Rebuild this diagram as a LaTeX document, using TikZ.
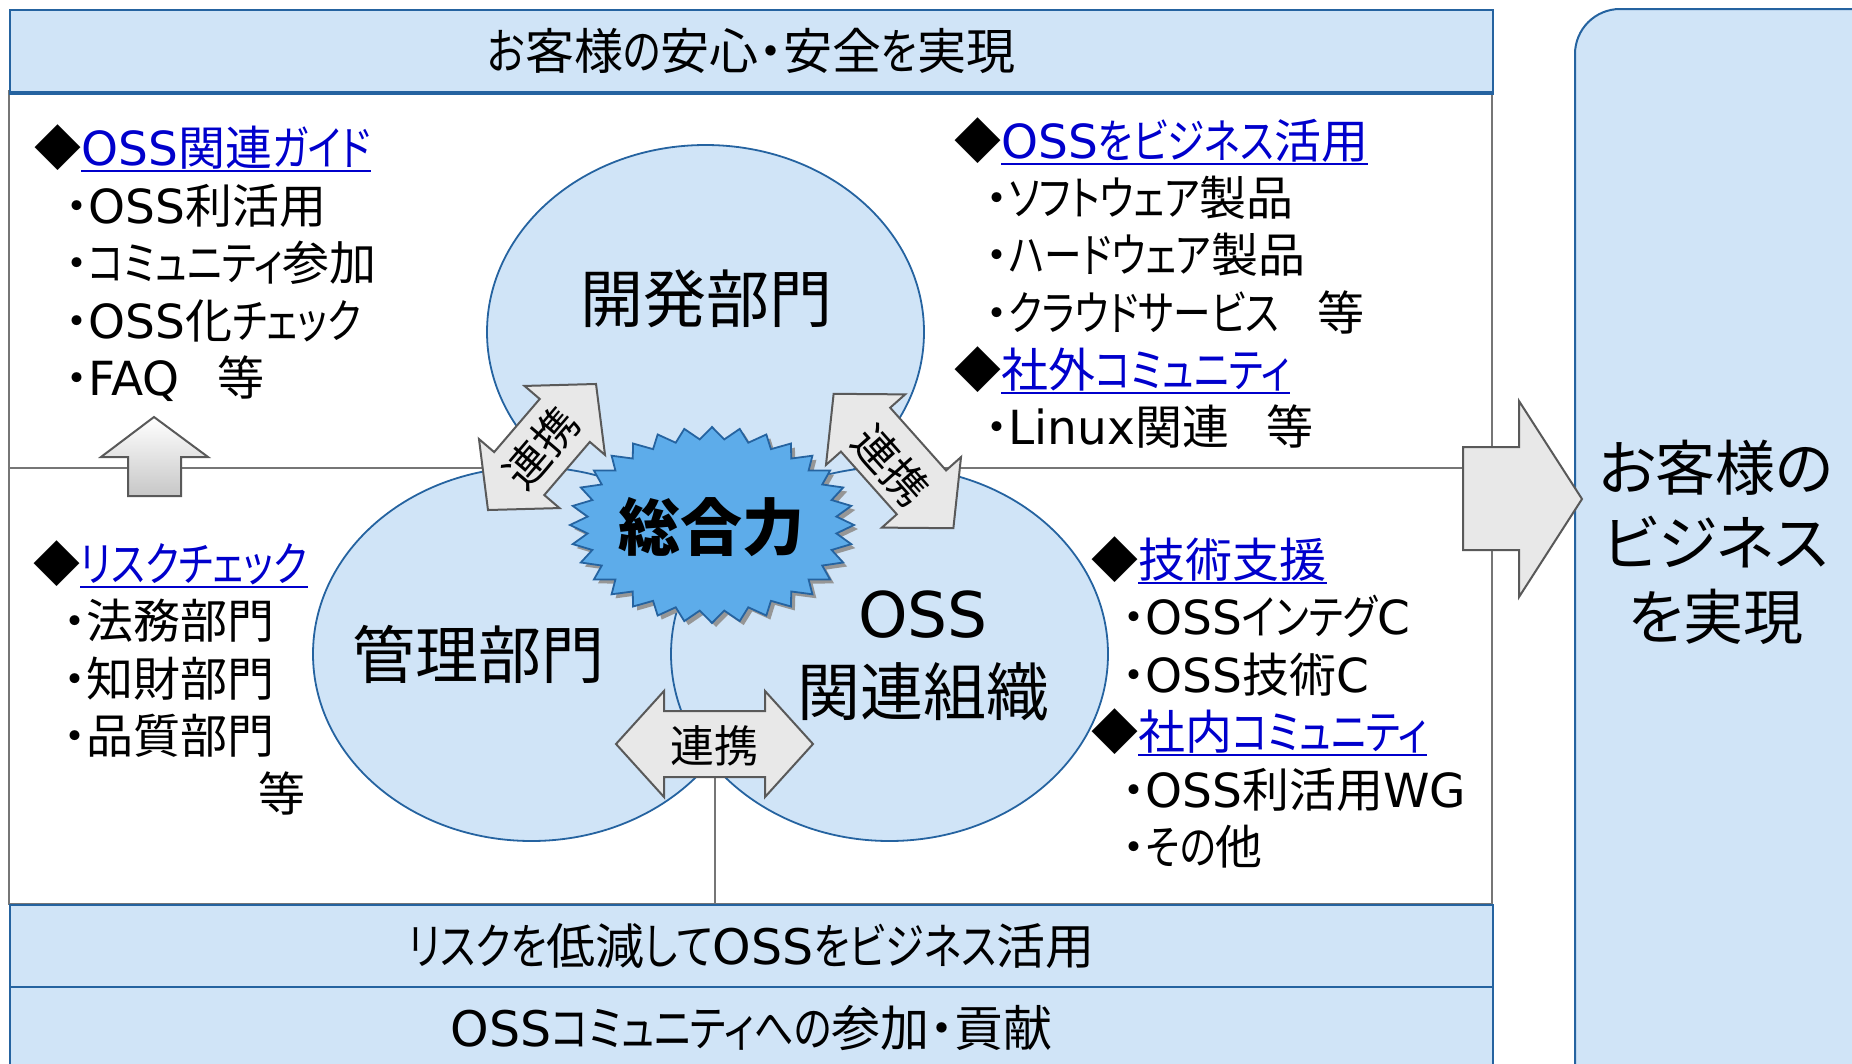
\documentclass[tikz,border=0pt]{standalone}
\usepackage{fontspec}
\setmainfont{Noto Sans CJK JP}[RawFeature={+palt}]
\newfontfamily\latfont{DejaVu Sans}
\newfontfamily\kanafont{Noto Sans CJK JP}[FakeStretch=0.8, RawFeature={+palt}]
\newcommand\lt[1]{{\latfont #1}}
\newcommand\kana[1]{{\kanafont #1}}
\usetikzlibrary{shapes.geometric}
\definecolor{bandfill}{RGB}{208,228,247}
\definecolor{bandline}{RGB}{37,99,160}
\definecolor{panelline}{RGB}{118,118,118}
\definecolor{linkblue}{RGB}{0,0,204}
\definecolor{burstfill}{RGB}{93,172,234}
\definecolor{burstshadow}{RGB}{150,150,150}
\definecolor{arrowfill}{RGB}{232,232,232}
\definecolor{arrowline}{RGB}{89,89,89}
\begin{document}
\begin{tikzpicture}[x=1pt,y=-1pt,
  band/.style={draw=bandline, fill=bandfill, line width=2pt, inner sep=0pt,
    minimum width=1483pt, minimum height=82pt, anchor=north west,
    font=\fontsize{49}{56}\selectfont},
  orgcirc/.style={shape=ellipse, draw=bandline, fill=bandfill, line width=1.8pt,
    inner sep=0pt, minimum width=437pt, minimum height=374pt},
  itemtxt/.style={inner sep=0pt, anchor=base west, font=\fontsize{47}{54}\selectfont},
  linktxt/.style={itemtxt, text=linkblue},
  uline/.style={draw=linkblue, line width=2pt},
  biglabel/.style={inner sep=0pt, font=\fontsize{63}{70}\selectfont},
  custtxt/.style={inner sep=0pt, font=\fontsize{60}{70}\selectfont},
  arrowtxt/.style={inner sep=0pt, font=\fontsize{44}{52}\selectfont},
  arrowshape/.style={draw=arrowline, fill=arrowfill, line width=2pt, line join=miter},
  dblarrow/.pic={
    \path[arrowshape] (#1,0) -- ({#1-48},53) -- ({#1-48},33) -- ({-#1+48},33)
      -- ({-#1+48},53) -- (-#1,0) -- ({-#1+48},-53) -- ({-#1+48},-33)
      -- ({#1-48},-33) -- ({#1-48},-53) -- cycle;
  }
]
\useasboundingbox (0,0) rectangle (1852,1063);
\clip (0,0) rectangle (1852,1063);

% main panel
\draw[panelline, line width=2pt, fill=white] (9,91) rectangle (1492,904);

% connector coordinates
\coordinate (hlstart) at (9,468);
\coordinate (bigarrowtail) at (1463,468);
\coordinate (linkbottom) at (714.5,777);
\coordinate (bandtop) at (714.5,904);
\draw[panelline, line width=2pt] (hlstart) -- (bigarrowtail);
\draw[panelline, line width=2pt] (linkbottom) -- (bandtop);

% bands
\node[band] (topband) at (9,9) {\kana{お}客様\kana{の}安心・安全\kana{を}実現};
\draw[bandline, line width=3.5pt] (topband.south west) -- (topband.south east);
\node[band] (riskband) at (9,904) {\kana{リスクを}低減\kana{して}\lt{OSS}\kana{をビジネス}活用};
\node[band] (commband) at (9,986) {\lt{OSS}\kana{コミュニティへの}参加・貢献};

% right box
\draw[bandline, fill=bandfill, line width=2pt, rounded corners=45pt] (1575,9) rectangle (1920,1130);
\node[custtxt] (cust1) at (1716,468) {お客様の};
\node[custtxt] (cust2) at (1716,542) {ビジネス};
\node[custtxt] (cust3) at (1716,617) {を実現};

% big right arrow
\draw[arrowshape] (1463,447) -- (1519,447) -- (1519,401) -- (1582,499) -- (1519,597) -- (1519,550) -- (1463,550) -- cycle;

% up arrow
\draw[draw=arrowline, line width=2pt, top color=white, bottom color=black!22, line join=miter]
  (154,417) -- (208,457) -- (181,457) -- (181,496) -- (128,496) -- (128,457) -- (101,457) -- cycle;

% ellipses
\node[orgcirc] (dev) at (705.5,332) {};
\node[orgcirc] (mgmt) at (531.5,654) {};
\node[orgcirc] (oss) at (889.5,654) {};

\node[biglabel] (devlabel) at (706,299) {開発部門};
\node[biglabel] (mgmtlabel) at (478,654) {管理部門};
\node[biglabel] (osslabel1) at (923,615) {\lt{OSS}};
\node[biglabel] (osslabel2) at (923,692) {関連組織};

% starburst
\begin{scope}[shift={(4,4)}]
\fill[burstshadow] (854,525) \foreach \i in {1,...,63} { -- ({712+(142-17*mod(\i,2))*cos(\i*5.625)}, {525+(98-12*mod(\i,2))*sin(\i*5.625)}) } -- cycle;
\end{scope}
\path[draw=bandline, fill=burstfill, line width=1.8pt, line join=miter] (854,525) \foreach \i in {1,...,63} { -- ({712+(142-17*mod(\i,2))*cos(\i*5.625)}, {525+(98-12*mod(\i,2))*sin(\i*5.625)}) } -- cycle;
\node[biglabel, font=\bfseries\fontsize{62}{70}\selectfont] (burst) at (711,527) {総合力};

% link arrows
\pic[rotate=49.4] at (542,447) {dblarrow=83};
\node[arrowtxt, rotate=49.4] (link1) at (541,448) {連携};
\pic[rotate=-48.3] at (893.5,461) {dblarrow=90};
\node[arrowtxt, rotate=-48.3] (link2) at (891,465) {連携};
\pic at (714.5,744) {dblarrow=98.5};
\node[arrowtxt] (link3) at (714.5,746) {連携};

% left top list
\node[itemtxt] (d1) at (34,165) {◆};
\node[linktxt] (h1) at (d1.base east) {\lt{OSS}関連\kana{ガイド}};
\draw[uline] ([yshift=-6pt]h1.base west) -- ([yshift=-6pt]h1.base east);
\node[itemtxt] (a1) at (65,223) {・\lt{OSS}利活用};
\node[itemtxt] (a2) at (65,280) {・\kana{コミュニティ}参加};
\node[itemtxt] (a3) at (65,338) {・\lt{OSS}化\kana{チェック}};
\node[itemtxt] (a4) at (65,395) {・\lt{FAQ}\kana{　}等};

% left bottom list
\node[itemtxt] (d2) at (33,581) {◆};
\node[linktxt] (h2) at (d2.base east) {\kana{リスクチェック}};
\draw[uline] ([yshift=-6pt]h2.base west) -- ([yshift=-6pt]h2.base east);
\node[itemtxt] (b1) at (63,638) {・法務部門};
\node[itemtxt] (b2) at (63,696) {・知財部門};
\node[itemtxt] (b3) at (63,753) {・品質部門};
\node[itemtxt] (b4) at (258,811) {等};

% right top list
\node[itemtxt] (d3) at (954,158) {◆};
\node[linktxt] (h3) at (d3.base east) {\lt{OSS}\kana{をビジネス}活用};
\draw[uline] ([yshift=-6pt]h3.base west) -- ([yshift=-6pt]h3.base east);
\node[itemtxt] (c1) at (985,215) {・\kana{ソフトウェア}製品};
\node[itemtxt] (c2) at (985,272) {・\kana{ハードウェア}製品};
\node[itemtxt] (c3) at (985,330) {・\kana{クラウドサービス　}等};
\node[itemtxt] (d4) at (954,387) {◆};
\node[linktxt] (h4) at (d4.base east) {社外\kana{コミュニティ}};
\draw[uline] ([yshift=-6pt]h4.base west) -- ([yshift=-6pt]h4.base east);
\node[itemtxt] (c4) at (985,444) {・\lt{Linux}関連\kana{　}等};

% right bottom list
\node[itemtxt] (d5) at (1091,577) {◆};
\node[linktxt] (h5) at (d5.base east) {技術支援};
\draw[uline] ([yshift=-6pt]h5.base west) -- ([yshift=-6pt]h5.base east);
\node[itemtxt] (e1) at (1122,634) {・\lt{OSS}\kana{インテグ}\lt{C}};
\node[itemtxt] (e2) at (1122,692) {・\lt{OSS}技術\lt{C}};
\node[itemtxt] (d6) at (1091,749) {◆};
\node[linktxt] (h6) at (d6.base east) {社内\kana{コミュニティ}};
\draw[uline] ([yshift=-6pt]h6.base west) -- ([yshift=-6pt]h6.base east);
\node[itemtxt] (e3) at (1122,807) {・\lt{OSS}利活用\lt{WG}};
\node[itemtxt] (e4) at (1122,864) {・\kana{その}他};
\end{tikzpicture}
\end{document}
